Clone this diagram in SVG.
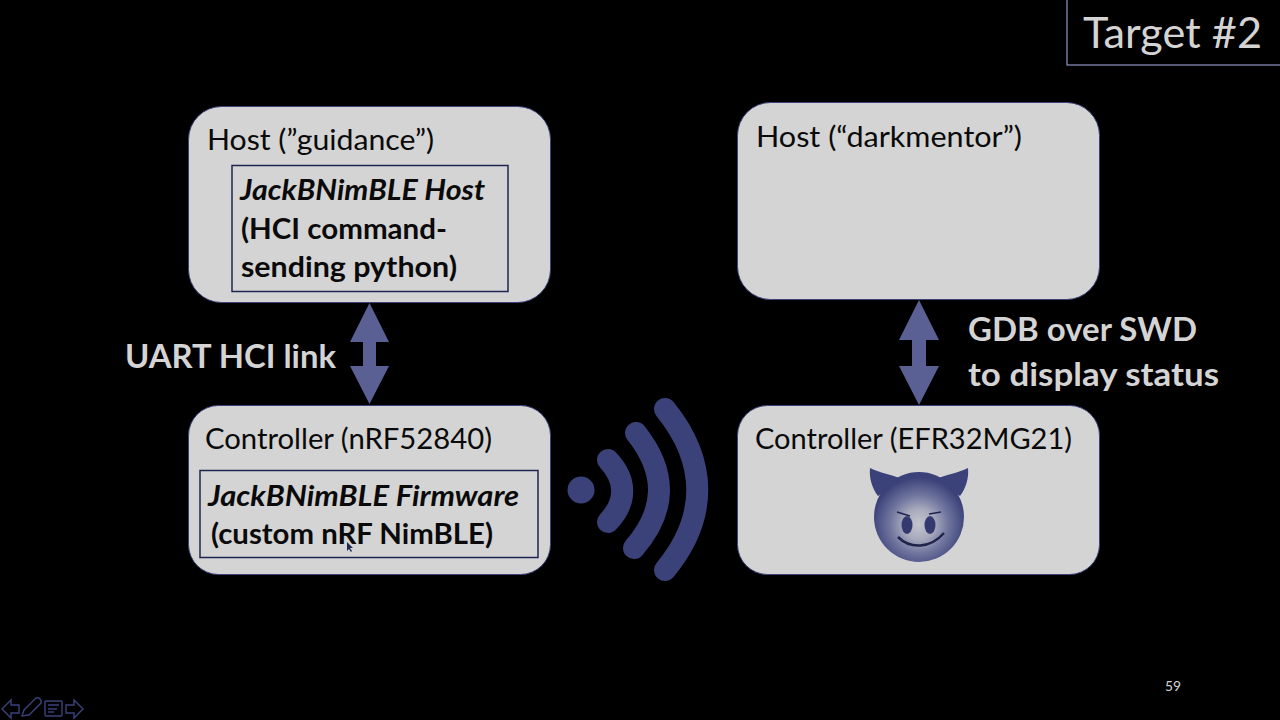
<svg xmlns="http://www.w3.org/2000/svg" width="1280" height="720" viewBox="0 0 1280 720">
<defs>
<radialGradient id="face" cx="50%" cy="58%" r="52%"><stop offset="0" stop-color="#c4c5cc"/><stop offset="0.32" stop-color="#a9abbd"/><stop offset="0.62" stop-color="#71769f"/><stop offset="1" stop-color="#3b4279"/></radialGradient>
</defs>
<style>
text{font-family:Lato,"Open Sans","Liberation Sans",sans-serif;fill:#0a0a0a}
.box{fill:#d4d4d4;stroke:#3b4279;stroke-width:1}
.inner{fill:none;stroke:#1f2550;stroke-width:1.5}
.t{font-size:28px}
.b{font-size:29px;font-weight:700}
.bi{font-size:29px;font-weight:700;font-style:italic}
.w{font-size:32px;font-weight:700;fill:#d4d4d4}
.arr{fill:#5a6094}
.sig{fill:none;stroke:#3b4279;stroke-linecap:round;stroke-width:22}
.ic{fill:none;stroke:#3b4279;stroke-width:1.4}
</style>
<rect width="1280" height="720" fill="#000"/>
<g id="title"><rect x="1067" y="-2" width="214" height="67" fill="#000" stroke="#8f94c4" stroke-width="1.200"/><text x="1083" y="48" textLength="179" lengthAdjust="spacingAndGlyphs" style="font-size:43px;fill:#d4d4d4">Target #2</text></g>
<g id="host-guidance"><rect class="box" x="188.500" y="106.500" width="362" height="196" rx="33"/><text class="t" x="207" y="150" textLength="227" lengthAdjust="spacingAndGlyphs">Host (”guidance”)</text></g>
<g id="host-software"><rect class="inner" x="232" y="165.500" width="276" height="126"/><text class="bi" x="240" y="200" textLength="245" lengthAdjust="spacingAndGlyphs">JackBNimBLE Host</text><text class="b" x="241" y="239" textLength="206" lengthAdjust="spacingAndGlyphs">(HCI command-</text><text class="b" x="241" y="277" textLength="216" lengthAdjust="spacingAndGlyphs">sending python)</text></g>
<g id="host-darkmentor"><rect class="box" x="737.500" y="102.500" width="362" height="197" rx="33"/><text class="t" x="756" y="147" textLength="266" lengthAdjust="spacingAndGlyphs">Host (“darkmentor”)</text></g>
<g id="controller-nrf"><rect class="box" x="188.500" y="405.500" width="362" height="169" rx="30"/><text class="t" x="205" y="449" textLength="287" lengthAdjust="spacingAndGlyphs">Controller (nRF52840)</text></g>
<g id="firmware"><rect class="inner" x="200" y="470.500" width="338" height="87"/><text class="bi" x="208" y="506" textLength="311" lengthAdjust="spacingAndGlyphs">JackBNimBLE Firmware</text><text class="b" x="211" y="544" textLength="282" lengthAdjust="spacingAndGlyphs">(custom nRF NimBLE)</text><path d="M347 542l0 9 2-2 2 3 1-1-2-3 3 0z" fill="#1f2550"/></g>
<g id="controller-efr"><rect class="box" x="737.500" y="405.500" width="362" height="169" rx="30"/><text class="t" x="755" y="449" textLength="317" lengthAdjust="spacingAndGlyphs">Controller (EFR32MG21)</text></g>
<g id="devil">
<path d="M870 468C880 473 893 475 905 480L878 496C872 488 869 478 870 468Z" fill="#3b4279"/>
<path d="M968 468C958 473 945 475 933 480L960 496C966 488 969 478 968 468Z" fill="#3b4279"/>
<circle cx="919" cy="517" r="45" fill="url(#face)"/>
<ellipse cx="907" cy="525" rx="5.500" ry="9" fill="#343a70"/><ellipse cx="930" cy="525" rx="5.500" ry="9" fill="#343a70"/>
<path d="M897 512l13 4M941 512l-12 2" stroke="#20244c" stroke-width="1.500" fill="none"/>
<path d="M898 537C910 549 930 549 944 533" stroke="#20244c" stroke-width="2.500" fill="none"/>
</g>
<g id="connectors">
<path class="arr" d="M369.500 303L389 342H376V366H389L369.500 404L350 366H363V342H350Z"/>
<path class="arr" d="M919 300L939 340H926V366H939L919 405L899 366H912V340H899Z"/>
</g>
<g id="labels">
<text class="w" x="125" y="368" textLength="211" lengthAdjust="spacingAndGlyphs">UART HCI link</text>
<text class="w" x="968" y="341" textLength="229" lengthAdjust="spacingAndGlyphs">GDB over SWD</text>
<text class="w" x="968" y="386" textLength="251" lengthAdjust="spacingAndGlyphs">to display status</text>
<text x="1165" y="691" style="font-size:14px;fill:#d4d4d4" textLength="16" lengthAdjust="spacingAndGlyphs">59</text>
</g>
<g id="signal">
<circle cx="581" cy="490" r="13.500" fill="#3b4279"/>
<path class="sig" d="M608 460C627 480 627 502 608 522"/>
<path class="sig" d="M636 433C667 472 667 510 634 548"/>
<path class="sig" d="M665 409C708 462 708 518 665 570"/>
</g>
<g id="toolbar">
<path class="ic" d="M2 709L11 700V705H19V713H11V718Z"/>
<path class="ic" d="M22 716L24 710L36 698C39 697 42 700 41 703L29 715Z"/>
<rect class="ic" x="45" y="701" width="17" height="15" rx="1"/><path class="ic" d="M48 705h11M48 709h9M48 712h6"/>
<path class="ic" d="M83 709L74 700V705H66V713H74V718Z"/>
</g>
</svg>
